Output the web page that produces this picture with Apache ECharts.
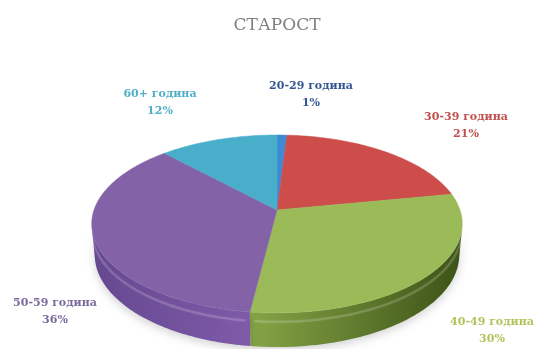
<!DOCTYPE html>
<html>
<head>
<meta charset="utf-8">
<script src="https://cdn.jsdelivr.net/npm/echarts@6/dist/echarts.min.js"></script>
<style>
  html, body { margin: 0; padding: 0; background: #ffffff; }
  #chart { width: 537px; height: 349px; }
</style>
</head>
<body>
<div id="chart"></div>
<script>
// Age groups and their shares (%)
const chartTitle = 'СТАРОСТ';
const categories = ['20-29 година', '30-39 година', '40-49 година', '50-59 година', '60+ година'];
const shares = [1, 21, 30, 36, 12];

// Slice styling
const topColors  = ['#3d8ad6', '#cc4d4a', '#9bbb59', '#8462a8', '#48aeca'];
const wallColors = [
  ['#2f6fb0', '#24568a'],
  ['#a53c3a', '#7d2c2a'],
  ['#86a546', '#3c5217'],
  ['#654890', '#7f5aa9'],
  ['#3a93ad', '#2b6f83']
];
const labelColors = ['#34558f', '#c0504d', '#b3c25c', '#7a6a9c', '#52afc8'];

// Label anchors (screen px) for each slice
const labelAnchors = [[311, 95], [466, 126], [492, 331], [55, 312], [160, 103]];

// 3D projection of the pie disc
const VIEW = {
  cx: 277, cy: 210,   // projected centre of the top face
  k: 183,             // radius scale
  sinT: 0.474, cosT: 0.880, // tilt
  persp: 0.178,       // perspective strength
  depth: 0.193        // disc thickness (radius units)
};

function project(x, y, z) {
  const den = 1 - (y * VIEW.sinT + z * VIEW.cosT) * VIEW.persp;
  return [VIEW.cx + VIEW.k * x / den, VIEW.cy - VIEW.k * (y * VIEW.cosT - z * VIEW.sinT) / den];
}
function rim(theta, y) {
  return project(Math.sin(theta), y, -Math.cos(theta));
}
function arc(a, b, y) {
  const pts = [];
  const n = Math.max(2, Math.ceil(Math.abs(b - a) / (Math.PI / 180)));
  for (let i = 0; i <= n; i++) pts.push(rim(a + (b - a) * i / n, y));
  return pts;
}

const total = shares.reduce((s, v) => s + v, 0);
const starts = [];
shares.reduce((acc, v, i) => { starts[i] = acc; return acc + v; }, 0);

// front part of the cylinder wall that faces the viewer
const visLimit = Math.acos(-VIEW.persp / VIEW.cosT);
const visFrom = visLimit, visTo = 2 * Math.PI - visLimit;

function renderSlice(params, api) {
  const i = params.dataIndex;
  const v = api.value(0);
  const a = starts[i] / total * 2 * Math.PI;
  const b = a + v / total * 2 * Math.PI;
  const children = [];

  // outer wall
  const wa = Math.max(a, visFrom), wb = Math.min(b, visTo);
  if (wb > wa) {
    const topArc = arc(wa, wb, 0);
    const botArc = arc(wb, wa, -VIEW.depth);
    children.push({
      type: 'polygon',
      z2: 1,
      shape: { points: topArc.concat(botArc) },
      style: {
        fill: new echarts.graphic.LinearGradient(0, 0, 1, 0, [
          { offset: 0, color: wallColors[i][0] },
          { offset: 1, color: wallColors[i][1] }
        ]),
        shadowBlur: 10,
        shadowOffsetY: 3,
        shadowColor: 'rgba(0,0,0,0.18)'
      }
    });
    // soft bevel highlight near the upper rim
    children.push({
      type: 'polyline',
      z2: 2,
      shape: { points: arc(wa + 0.02, wb - 0.02, -0.05) },
      style: {
        stroke: 'rgba(255,255,255,0.16)', lineWidth: 2.5, fill: null,
        shadowBlur: 3, shadowColor: 'rgba(255,255,255,0.35)'
      }
    });
  }

  // top face
  children.push({
    type: 'polygon',
    z2: 10,
    shape: { points: [project(0, 0, 0)].concat(arc(a, b, 0)) },
    style: { fill: topColors[i], stroke: topColors[i], lineWidth: 0.5 }
  });

  // label
  const at = labelAnchors[i];
  children.push({
    type: 'text',
    z2: 20,
    x: at[0],
    y: at[1],
    style: {
      text: categories[i] + '\n' + v + '%',
      fill: labelColors[i],
      fontFamily: 'DejaVu Serif',
      fontWeight: 'bold',
      fontSize: 11,
      lineHeight: 17,
      align: 'center',
      verticalAlign: 'middle'
    }
  });

  return { type: 'group', children: children };
}

const chart = echarts.init(document.getElementById('chart'), null, { renderer: 'canvas' });
chart.setOption({
  backgroundColor: '#ffffff',
  animation: false,
  title: {
    text: chartTitle,
    left: 277,
    top: 17,
    padding: 0,
    textAlign: 'center',
    textStyle: {
      fontFamily: 'DejaVu Serif',
      fontWeight: 'normal',
      fontSize: 17,
      color: '#7f7f7f'
    }
  },
  series: [{
    type: 'custom',
    coordinateSystem: 'none',
    silent: true,
    renderItem: renderSlice,
    data: shares.map((v, i) => ({ name: categories[i], value: [v] }))
  }]
});
</script>
</body>
</html>
